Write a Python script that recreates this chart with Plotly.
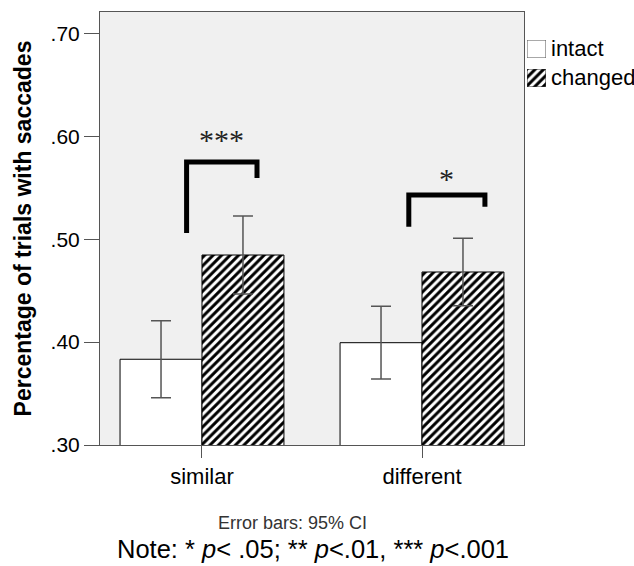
import plotly.graph_objects as go

categories = ["similar", "different"]
intact_vals = [0.3833, 0.3994]
intact_err = [0.0374, 0.0353]
changed_vals = [0.4846, 0.4681]
changed_err = [0.0380, 0.0328]
y_tickvals = [0.30, 0.40, 0.50, 0.60, 0.70]
y_ticktext = [".30", ".40", ".50", ".60", ".70"]
series_names = ["intact", "changed"]
# significance brackets: (x_left, x_right, y_top, y_left_bottom, y_right_bottom, label, label_y)
brackets = [
    (-0.07, 0.25, 0.575, 0.506, 0.5595, "***", 0.599),
    (0.94, 1.286, 0.543, 0.512, 0.5316, "*", 0.5605),
]

hatch = dict(shape="/", fgcolor="black", bgcolor="white", fgopacity=1,
             size=6, solidity=0.5, fillmode="overlay")

fig = go.Figure()
fig.add_trace(go.Bar(
    x=categories, y=intact_vals, name=series_names[0], showlegend=False,
    marker=dict(color="white", line=dict(color="black", width=1)),
    error_y=dict(type="data", array=intact_err, color="#555555", thickness=1.5, width=10),
))
fig.add_trace(go.Bar(
    x=categories, y=changed_vals, name=series_names[1], showlegend=False,
    marker=dict(color="white", line=dict(color="black", width=1), pattern=hatch),
    error_y=dict(type="data", array=changed_err, color="#555555", thickness=1.5, width=10),
))

# legend swatches drawn as single bars on tiny hidden axes
fig.add_trace(go.Bar(x=[0], y=[1], width=[1], xaxis="x2", yaxis="y2", showlegend=False,
                     hoverinfo="skip", cliponaxis=False,
                     marker=dict(color="white", line=dict(color="#555", width=1))))
fig.add_trace(go.Bar(x=[0], y=[1], width=[1], xaxis="x3", yaxis="y3", showlegend=False,
                     hoverinfo="skip", cliponaxis=False,
                     marker=dict(color="white", line=dict(color="#333", width=1), pattern=hatch)))

for xl, xr, yt, ylb, yrb, lab, ly in brackets:
    fig.add_shape(type="path", xref="x", yref="y",
                  path=f"M {xl},{ylb} L {xl},{yt} L {xr},{yt} L {xr},{yrb}",
                  line=dict(color="black", width=5))
    fig.add_annotation(x=(xl + xr) / 2, y=ly, xref="x", yref="y", text=lab, showarrow=False,
                       yanchor="middle", yshift=-2,
                       font=dict(family="Liberation Serif", size=30, color="#222"))

fig.add_annotation(x=0.8408, y=0.9165, xref="paper", yref="paper", text=series_names[0],
                   xanchor="left", yanchor="middle", showarrow=False,
                   font=dict(size=22, color="black"))
fig.add_annotation(x=0.8408, y=0.8476, xref="paper", yref="paper", text=series_names[1],
                   xanchor="left", yanchor="middle", showarrow=False,
                   font=dict(size=22, color="black"))

fig.add_annotation(x=0.3596, y=-0.180, xref="paper", yref="paper", text="Error bars: 95% CI",
                   yanchor="middle", showarrow=False,
                   font=dict(family="Liberation Sans", size=18, color="#333"))
fig.add_annotation(x=0.3996, y=-0.241, xref="paper", yref="paper",
                   text="Note: * <i>p</i>&lt; .05; ** <i>p</i>&lt;.01, *** <i>p</i>&lt;.001",
                   yanchor="middle", showarrow=False,
                   font=dict(family="Liberation Sans", size=25.5, color="black"))

hidden = dict(visible=False, fixedrange=True)
fig.update_layout(
    width=634, height=566,
    margin=dict(l=100, r=0, t=12, b=121),
    paper_bgcolor="white", plot_bgcolor="#f0f0f0",
    barmode="group", bargap=0.255, bargroupgap=0,
    showlegend=False,
    font=dict(family="Liberation Sans", size=20, color="black"),
    xaxis=dict(domain=[0, 0.794], range=[-0.4636, 1.4636], showline=True, linecolor="#555",
               linewidth=1, mirror=True, ticks="outside", ticklen=12, tickcolor="#555",
               showgrid=False, tickfont=dict(size=22)),
    yaxis=dict(range=[0.30, 0.7207], tickvals=y_tickvals, ticktext=y_ticktext,
               showline=True, linecolor="#555", linewidth=1, mirror=True,
               ticks="outside", ticklen=15, tickcolor="#555", showgrid=False, zeroline=False,
               tickfont=dict(size=21),
               title=dict(text="<b>Percentage of trials with saccades</b>", font=dict(size=23),
                          standoff=12)),
    xaxis2=dict(domain=[0.7996, 0.8352], range=[-0.5, 0.5], anchor="y2", **hidden),
    yaxis2=dict(domain=[0.8938, 0.9353], range=[0, 1], anchor="x2", **hidden),
    xaxis3=dict(domain=[0.7996, 0.8352], range=[-0.5, 0.5], anchor="y3", **hidden),
    yaxis3=dict(domain=[0.8268, 0.8684], range=[0, 1], anchor="x3", **hidden),
)

fig.write_html("out.html")
